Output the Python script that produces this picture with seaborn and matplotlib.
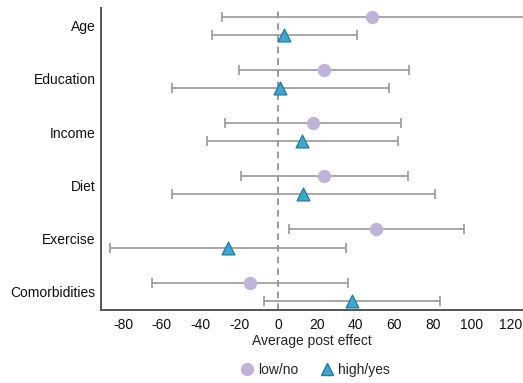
import matplotlib
matplotlib.use("Agg")
import matplotlib.pyplot as plt
import seaborn as sns
import pandas as pd
import numpy as np

categories = ["Age", "Education", "Income", "Diet", "Exercise", "Comorbidities"]
groups = ["low/no", "high/yes"]

low_est = [48.5, 23.6, 17.9, 23.7, 50.6, -14.5]
low_lo = [-29.1, -20.1, -27.2, -19.3, 5.7, -65.0]
low_hi = [135.0, 67.4, 63.5, 67.1, 95.8, 36.0]

high_est = [2.9, 1.2, 12.6, 12.7, -25.8, 38.4]
high_lo = [-34.1, -54.9, -36.6, -54.9, -86.7, -7.1]
high_hi = [40.8, 57.5, 61.9, 80.9, 34.9, 83.6]

xticks = [-80, -60, -40, -20, 0, 20, 40, 60, 80, 100, 120]

sns.set_theme(style="white")
plt.rcParams["font.family"] = ["Liberation Sans", "DejaVu Sans"]

rows = []
for i, c in enumerate(categories):
    rows.append(dict(category=c, idx=i, group="low/no", est=low_est[i], lo=low_lo[i], hi=low_hi[i], y=i - 0.17))
    rows.append(dict(category=c, idx=i, group="high/yes", est=high_est[i], lo=high_lo[i], hi=high_hi[i], y=i + 0.17))
df = pd.DataFrame(rows)

fig = plt.figure(figsize=(5.23, 3.83), dpi=100)
ax = fig.add_axes([0.193, 0.191, 0.807, 0.788])

ax.axvline(0, color="#8a8a8a", linestyle=(0, (4, 3)), linewidth=1.2, zorder=1)

ax.errorbar(df["est"], df["y"], xerr=[df["est"] - df["lo"], df["hi"] - df["est"]],
            fmt="none", ecolor="#9a9a9a", elinewidth=1.2, capsize=3.5, capthick=1.2, zorder=2)

styles = {
    "low/no": dict(marker="o", color="#c1b2d9", edgecolor="#c1b2d9", s=75),
    "high/yes": dict(marker="^", color="#3ba8d0", edgecolor="#1f7aa3", s=85),
}
for g in groups:
    sub = df[df["group"] == g]
    st = styles[g]
    sns.scatterplot(data=sub, x="est", y="y", ax=ax, marker=st["marker"], color=st["color"],
                    edgecolor=st["edgecolor"], linewidth=0.9, s=st["s"], label=g, zorder=3, legend=False)

ax.set_yticks(range(len(categories)))
ax.set_yticklabels(categories)
ax.set_ylim(5.34, -0.33)
ax.set_xlim(-91.5, 126.5)
ax.set_xticks(xticks)
ax.set_xticklabels([str(t) for t in xticks])
ax.set_xlabel("Average post effect", fontsize=10, labelpad=1)
ax.set_ylabel("")
ax.tick_params(axis="both", length=0, labelsize=10, colors="#111111")
ax.tick_params(axis="x", pad=6)
ax.tick_params(axis="y", pad=4)

for s in ["top", "right"]:
    ax.spines[s].set_visible(False)
for s in ["left", "bottom"]:
    ax.spines[s].set_color("#555555")
    ax.spines[s].set_linewidth(1.4)

from matplotlib.lines import Line2D
handles = [
    Line2D([], [], marker="o", linestyle="none", markersize=8.5, markerfacecolor="#c1b2d9", markeredgecolor="#c1b2d9"),
    Line2D([], [], marker="^", linestyle="none", markersize=9, markerfacecolor="#3ba8d0", markeredgecolor="#1f7aa3"),
]
fig.legend(handles, groups, loc="center", bbox_to_anchor=(0.601, 0.034), ncol=2, frameon=False,
           fontsize=10, handlelength=1.2, handletextpad=0.25, columnspacing=1.4)

fig.savefig("out.png", dpi=100)
